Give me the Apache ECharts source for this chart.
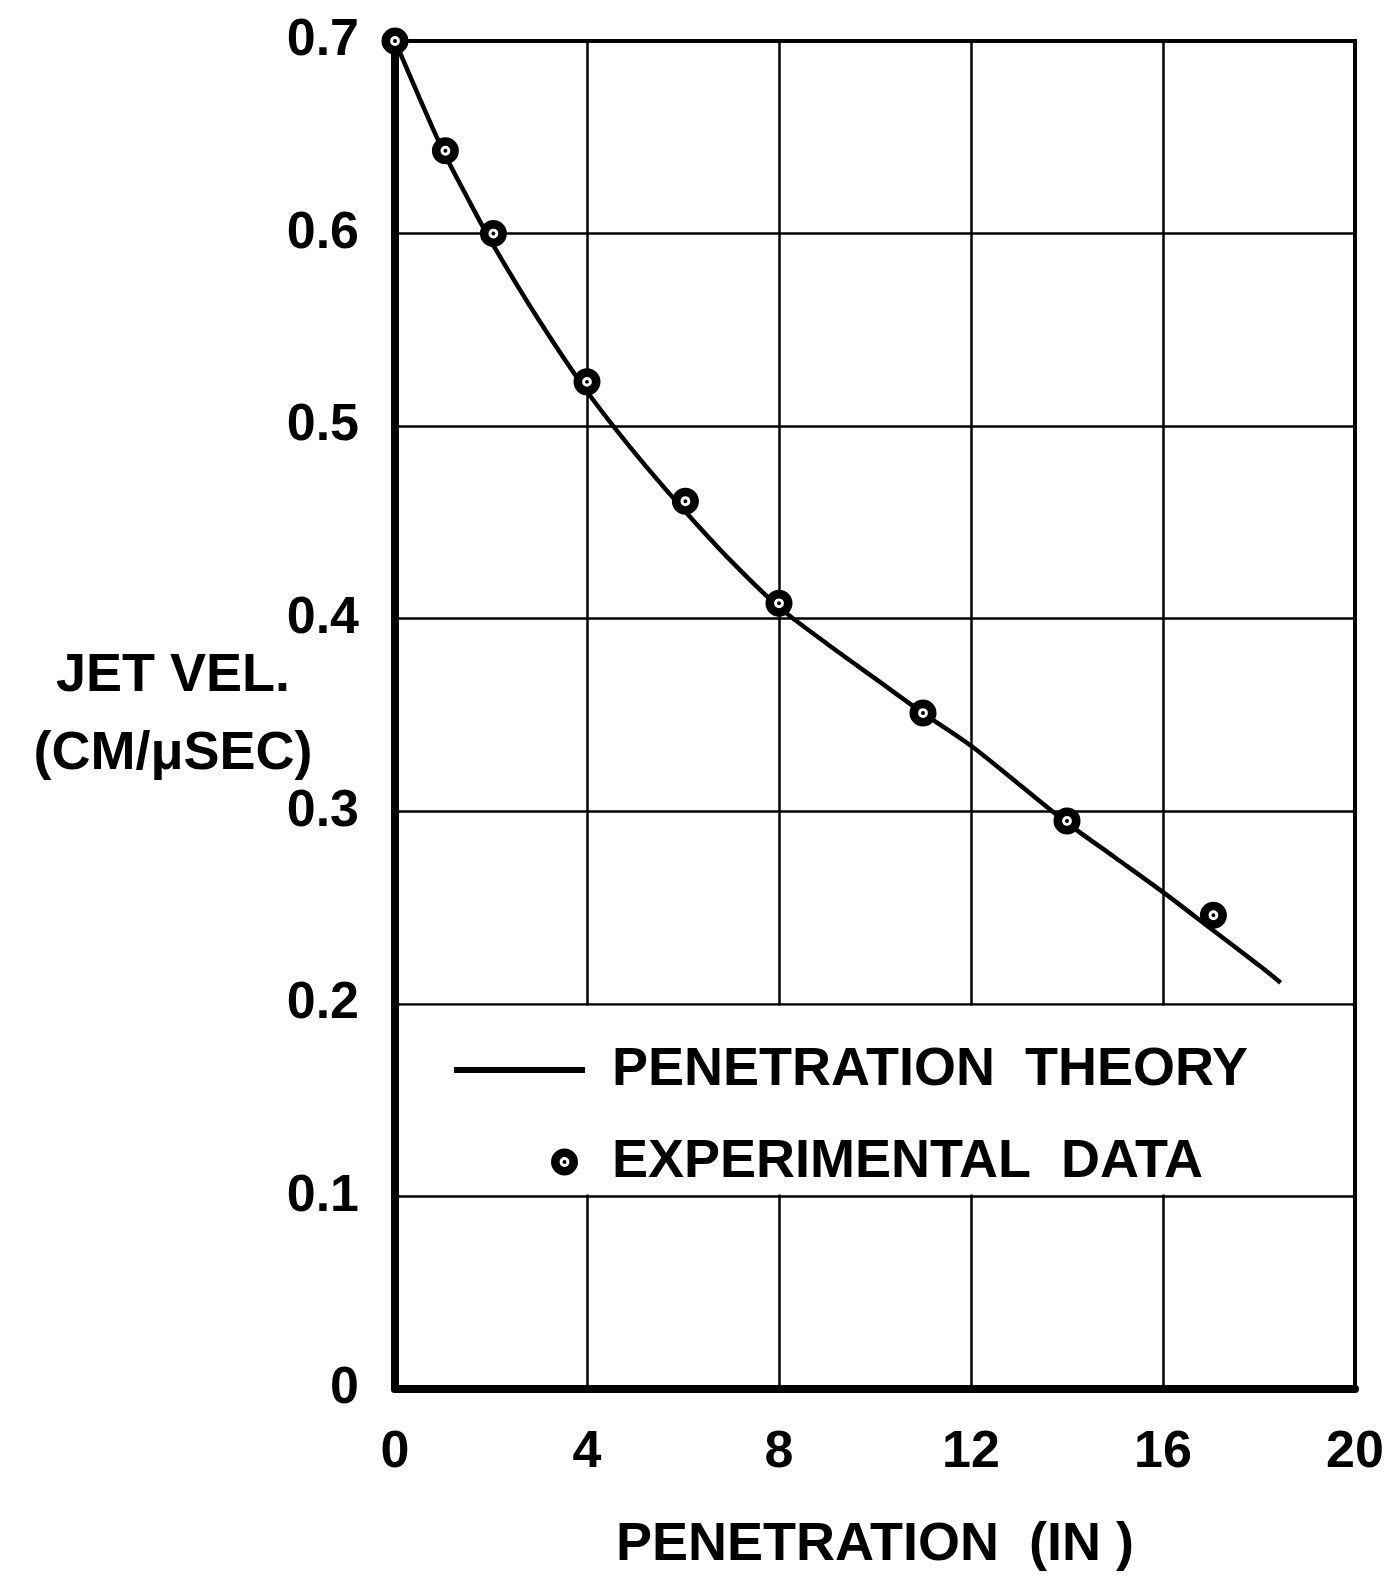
<!DOCTYPE html>
<html>
<head>
<meta charset="utf-8">
<script src="https://cdn.jsdelivr.net/npm/echarts@6/dist/echarts.min.js"></script>
<style>
html,body{margin:0;padding:0;background:#fff;}
#chart{width:1385px;height:1576px;}
</style>
</head>
<body>
<div id="chart"></div>
<script>
// ---- data ----
var xTicks = [0, 4, 8, 12, 16, 20];
var yTicks = [0, 0.1, 0.2, 0.3, 0.4, 0.5, 0.6, 0.7];
var yTickLabels = ['0', '0.1', '0.2', '0.3', '0.4', '0.5', '0.6', '0.7'];

var theoryX = [0, 0.5, 1, 1.5, 2, 3, 4, 5, 6, 7, 8, 9, 10, 11, 12, 13, 14, 15, 16, 17, 18, 18.45];
var theoryY = [0.700, 0.671, 0.643, 0.619, 0.596, 0.555, 0.518, 0.486, 0.457, 0.430, 0.406, 0.387, 0.369, 0.351, 0.334, 0.314, 0.294, 0.276, 0.258, 0.239, 0.220, 0.211];

var expX = [0, 1.05, 2.05, 4.0, 6.05, 8.0, 11.0, 14.0, 17.05];
var expY = [0.700, 0.643, 0.600, 0.523, 0.461, 0.408, 0.351, 0.295, 0.246];

var seriesNames = ['PENETRATION  THEORY', 'EXPERIMENTAL  DATA'];
var xName = 'PENETRATION  (IN )';
var yName = 'JET VEL.\n(CM/\u03bcSEC)';

// ---- build ----
var theoryData = theoryX.map(function (x, i) { return [x, theoryY[i]]; });
var expData = expX.map(function (x, i) { return [x, expY[i]]; });

var FONT = '"Liberation Sans", Arimo, sans-serif';
var ringPath = 'path://M1,12 A11,11 0 1,0 23,12 A11,11 0 1,0 1,12 Z ' +
  'M8,12 A4,4 0 1,1 16,12 A4,4 0 1,1 8,12 Z ' +
  'M10.4,12 A1.6,1.6 0 1,0 13.6,12 A1.6,1.6 0 1,0 10.4,12 Z';

var chart = echarts.init(document.getElementById('chart'), null, {renderer: 'canvas'});

var option = {
  backgroundColor: '#ffffff',
  animation: false,
  grid: {
    left: 395, right: 30, top: 41, bottom: 187,
    outerBoundsMode: 'none', containLabel: false,
    show: true, borderColor: '#000', borderWidth: 4, backgroundColor: 'transparent'
  },
  xAxis: {
    type: 'value', min: 0, max: 20, interval: 4,
    name: xName, nameLocation: 'middle', nameGap: 129,
    nameTextStyle: {fontFamily: FONT, fontWeight: 'bold', fontSize: 54, color: '#000'},
    axisLine: {show: true, onZero: false, lineStyle: {color: '#000', width: 8}},
    axisTick: {show: false},
    splitLine: {show: true, lineStyle: {color: '#000', width: 2.5}},
    axisLabel: {
      margin: 38, fontFamily: FONT, fontWeight: 'bold', fontSize: 52, color: '#000',
      formatter: function (v) { return xTicks.indexOf(v) >= 0 ? String(v) : ''; }
    }
  },
  yAxis: {
    type: 'value', min: 0, max: 0.7, interval: 0.1,
    name: yName, nameLocation: 'middle', nameRotate: 0, nameGap: 222, nameMoveOverlap: false,
    nameTextStyle: {fontFamily: FONT, fontWeight: 'bold', fontSize: 54, color: '#000', align: 'center', lineHeight: 78},
    axisLine: {show: true, onZero: false, lineStyle: {color: '#000', width: 8}},
    axisTick: {show: false},
    splitLine: {show: true, lineStyle: {color: '#000', width: 2.5}},
    axisLabel: {
      margin: 36, fontFamily: FONT, fontWeight: 'bold', fontSize: 52, color: '#000',
      formatter: function (v) {
        for (var i = 0; i < yTicks.length; i++) {
          if (Math.abs(yTicks[i] - v) < 1e-9) return yTickLabels[i];
        }
        return '';
      }
    }
  },
  legend: [
    {
      data: [{name: seriesNames[0], icon: 'rect'}], orient: 'vertical', left: 449, top: 1038,
      itemWidth: 131, itemHeight: 6,
      itemStyle: {color: '#000'},
      textStyle: {fontFamily: FONT, fontWeight: 'bold', fontSize: 54, color: '#000', padding: [0, 0, 0, 22]},
      selectedMode: false
    },
    {
      data: [seriesNames[1]], orient: 'vertical', left: 546, top: 1130,
      itemWidth: 27, itemHeight: 27,
      textStyle: {fontFamily: FONT, fontWeight: 'bold', fontSize: 54, color: '#000', padding: [0, 0, 0, 29]},
      selectedMode: false
    }
  ],
  series: [
    {
      name: seriesNames[0], type: 'line', data: theoryData,
      smooth: 0.3, symbol: 'none', showSymbol: false, z: 3,
      lineStyle: {color: '#000', width: 4.5},
      itemStyle: {color: '#000'}
    },
    {
      name: 'hole', type: 'scatter', data: expData,
      symbol: 'circle', symbolSize: 14, clip: false, z: 4, silent: true,
      itemStyle: {color: '#fff', opacity: 1}
    },
    {
      name: seriesNames[1], type: 'scatter', data: expData,
      symbol: ringPath, symbolSize: 27, clip: false, z: 5,
      itemStyle: {color: '#000', opacity: 1}
    }
  ]
};

chart.setOption(option);

// white legend box covering the grid between 0.1 and 0.2, computed through the axes
var p1 = chart.convertToPixel({gridIndex: 0}, [0, 0.2]);
var p2 = chart.convertToPixel({gridIndex: 0}, [20, 0.1]);
chart.setOption({
  graphic: [{
    type: 'rect', z: 1,
    shape: {x: p1[0] + 5, y: p1[1] + 2, width: (p2[0] - 3) - (p1[0] + 5), height: (p2[1] - 2) - (p1[1] + 2)},
    style: {fill: '#ffffff'}
  }]
});
</script>
</body>
</html>
